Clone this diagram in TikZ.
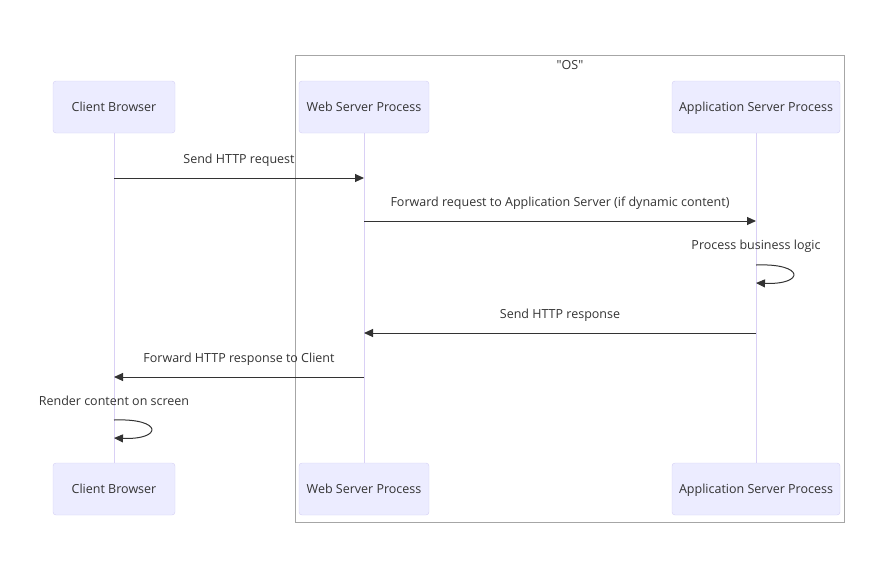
\documentclass[tikz,border=0pt]{standalone}
\usepackage{fontspec}
\setmainfont{Open Sans}
\newfontfamily\quotefont{Open Sans}[Ligatures=TeXOff]
\usetikzlibrary{arrows.meta,positioning}
\definecolor{actorfill}{HTML}{ECECFF}
\definecolor{actorline}{HTML}{D4CEF4}
\definecolor{lifeline}{HTML}{D9D0F5}
\definecolor{ink}{HTML}{333333}
\definecolor{framegray}{HTML}{A6A6A6}
\tikzset{
    actor/.style={
    rectangle,rounded corners=3pt,draw=actorline,fill=actorfill,
    minimum height=52pt,text=ink,text height=9pt,text depth=0pt,
    font=\fontsize{12.5}{14}\selectfont
    },
    life/.style={
    draw=lifeline,line width=1pt
    },
    msg/.style={
    draw=ink,line width=1pt,-{Triangle[length=9pt,width=8pt]}
    },
    msglabel/.style={
    text=ink,inner sep=0pt,anchor=base,font=\fontsize{12.5}{14}\selectfont
    },
}

\begin{document}
\begin{tikzpicture}[x=1pt, y=-1pt]
   \useasboundingbox (0,0) rectangle (885,579);
   % OS frame
   \draw[framegray, line width=1pt] (295,55) rectangle (844,522);
   \node[msglabel] (os) at (570,69) {\quotefont "OS"};

   % participants
   \node[actor, minimum width=122pt] (cbtop) at (114,107) {Client Browser};
   \node[actor, minimum width=130pt] (wstop) at (364,107) {Web Server Process};
   \node[actor, minimum width=168pt] (astop) at (756,107) {Application Server Process};
   \node[actor, minimum width=122pt] (cbbot) at (114,489) {Client Browser};
   \node[actor, minimum width=130pt] (wsbot) at (364,489) {Web Server Process};
   \node[actor, minimum width=168pt] (asbot) at (756,489) {Application Server Process};

   % lifelines
   \draw[life] (cbtop) -- (cbbot);
   \draw[life] (wstop) -- (wsbot);
   \draw[life] (astop) -- (asbot);

   % messages
   \draw[msg] (cbtop |- 0,178) -- node[msglabel, midway, yshift=15pt] (m1) {Send HTTP request} (wstop |- 0,178);
   \draw[msg] (wstop |- 0,221) -- node[msglabel, midway, yshift=15pt] (m2) {Forward request to Application Server (if dynamic content)} (astop |- 0,221);
   \node[msglabel] (m3) at (astop |- 0,249) {Process business logic};
   \draw[msg] (astop |- 0,265) .. controls +(49,-2) and +(49,2) .. (astop |- 0,283);
   \draw[msg] (astop |- 0,333) -- node[msglabel, midway, yshift=15pt] (m4) {Send HTTP response} (wstop |- 0,333);
   \draw[msg] (wstop |- 0,377) -- node[msglabel, midway, yshift=15pt] (m5) {Forward HTTP response to Client} (cbtop |- 0,377);
   \node[msglabel] (m6) at (cbtop |- 0,405) {Render content on screen};
   \draw[msg] (cbtop |- 0,420) .. controls +(49,-2) and +(49,2) .. (cbtop |- 0,438);
\end{tikzpicture}
\end{document}
